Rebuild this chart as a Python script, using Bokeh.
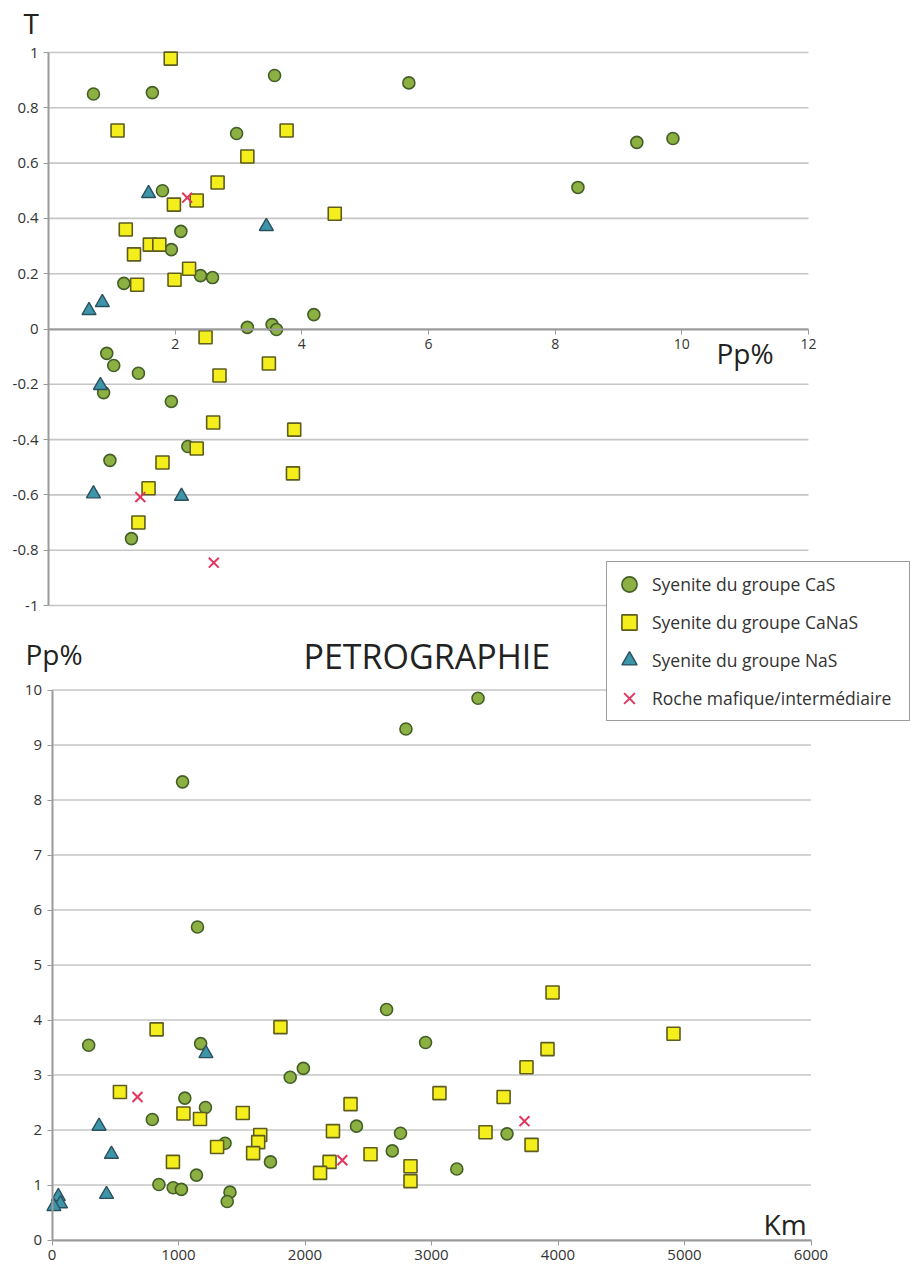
from bokeh.plotting import figure
from bokeh.models import (Range1d, LinearAxis, FixedTicker, Legend, LegendItem,
                          Label, CustomJSTickFormatter)
from bokeh.embed import file_html
from bokeh.resources import INLINE

# ---------------- data: top chart (T vs Pp%) ----------------
cas_pp_top = [0.71, 1.64, 3.57, 5.69, 2.97, 1.80, 2.09, 1.94, 2.40, 2.59, 1.19, 4.19, 8.36,
              9.29, 9.86, 3.14, 3.53, 3.60, 0.92, 1.03, 1.42, 0.87, 1.94, 2.20, 0.97, 1.31]
cas_t = [0.85, 0.855, 0.917, 0.89, 0.707, 0.50, 0.353, 0.287, 0.193, 0.186, 0.165, 0.052, 0.512,
         0.675, 0.689, 0.006, 0.016, -0.002, -0.088, -0.132, -0.16, -0.23, -0.262, -0.425, -0.475, -0.758]

canas_pp_top = [1.93, 1.09, 3.76, 3.14, 2.67, 1.98, 2.34, 4.52, 1.22, 1.60, 1.75, 1.35, 1.40,
                1.99, 2.22, 2.48, 3.48, 2.70, 2.60, 3.88, 2.34, 1.80, 3.86, 1.58, 1.42]
canas_t = [0.978, 0.718, 0.718, 0.624, 0.53, 0.45, 0.465, 0.417, 0.36, 0.305, 0.305, 0.27, 0.16,
           0.178, 0.218, -0.03, -0.125, -0.168, -0.338, -0.364, -0.432, -0.483, -0.522, -0.576, -0.70]

nas_pp_top = [1.58, 3.44, 0.85, 0.64, 0.82, 0.71, 2.10]
nas_t = [0.49, 0.371, 0.096, 0.067, -0.204, -0.596, -0.605]

mafic_pp_top = [2.19, 1.45, 2.61]
mafic_t = [0.475, -0.608, -0.845]

# ---------------- data: bottom chart (Pp% vs Km) ----------------
cas_km = [290, 1175, 2645, 2953, 1883, 1987, 1050, 1213, 793, 2407, 2755, 2690, 1368, 1727, 1142,
          845, 958, 1023, 1407, 1385, 3200, 3597, 1032, 1150, 2798, 3368]
cas_pp = [3.54, 3.57, 4.19, 3.59, 2.96, 3.12, 2.58, 2.41, 2.19, 2.07, 1.94, 1.62, 1.76, 1.42, 1.18,
          1.01, 0.95, 0.92, 0.87, 0.70, 1.29, 1.93, 8.33, 5.69, 9.29, 9.85]

canas_km = [827, 1806, 537, 1039, 1170, 1508, 2360, 2221, 3063, 1646, 1630, 1590, 1305, 956, 2194,
            2119, 2518, 2834, 2834, 3957, 4913, 3917, 3751, 3570, 3427, 3791]
canas_pp = [3.83, 3.87, 2.69, 2.30, 2.20, 2.31, 2.47, 1.98, 2.67, 1.91, 1.78, 1.58, 1.69, 1.42, 1.42,
            1.22, 1.56, 1.34, 1.07, 4.50, 3.75, 3.47, 3.14, 2.60, 1.96, 1.73]

nas_km = [1217, 372, 470, 431, 50, 67, 15]
nas_pp = [3.39, 2.07, 1.56, 0.83, 0.79, 0.66, 0.61]

mafic_km = [676, 2295, 3735]
mafic_pp = [2.60, 1.45, 2.16]

# ---------------- ticks and labels ----------------
t_ticks = [-1, -0.8, -0.6, -0.4, -0.2, 0, 0.2, 0.4, 0.6, 0.8, 1]
pp_top_ticks = [2, 4, 6, 8, 10, 12]
pp_ticks = [0, 1, 2, 3, 4, 5, 6, 7, 8, 9, 10]
km_ticks = [0, 1000, 2000, 3000, 4000, 5000, 6000]
series_labels = ["Syenite du groupe CaS", "Syenite du groupe CaNaS",
                 "Syenite du groupe NaS", "Roche mafique/intermédiaire"]

# ---------------- layout (canvas pixels; the frame fills the canvas) ----------------
W, H = 913, 1268
# bottom chart mapping
BX0, BXS = 51.5, 0.1265    # canvas x of km=0, px per km
BY0, BYS = 1239.5, 55.0    # canvas y of Pp=0, px per unit
# top chart mapping
TX0, TXS = 48.0, 63.33
TY0, TYS = 328.5, 276.5

p = figure(width=W, height=H, output_backend="svg", toolbar_location=None,
           x_axis_type=None, y_axis_type=None,
           x_range=Range1d((0 - BX0) / BXS, (W - BX0) / BXS),
           y_range=Range1d((BY0 - H) / BYS, (BY0 - 0) / BYS),
           min_border_left=0, min_border_right=0, min_border_top=0, min_border_bottom=0,
           background_fill_color="white", border_fill_color="white",
           outline_line_color=None)
p.extra_x_ranges = {"tx": Range1d((0 - TX0) / TXS, (W - TX0) / TXS)}
p.extra_y_ranges = {"ty": Range1d((TY0 - H) / TYS, (TY0 - 0) / TYS)}

GRID_C = "#c6c6c6"
AXIS_C = "#9a9a9a"
FONT = "Open Sans"

# horizontal grid lines, spanning each chart's x extent
top_x_end = max(pp_top_ticks)
bot_x_end = max(km_ticks)
p.segment(x0=[0] * len(t_ticks), x1=[top_x_end] * len(t_ticks), y0=t_ticks, y1=t_ticks,
          x_range_name="tx", y_range_name="ty",
          line_color=GRID_C, line_width=1.6, level="underlay")
p.segment(x0=[0] * len(pp_ticks), x1=[bot_x_end] * len(pp_ticks), y0=pp_ticks, y1=pp_ticks,
          line_color=GRID_C, line_width=1.6, level="underlay")


def style_axis(ax):
    ax.axis_line_color = AXIS_C
    ax.axis_line_width = 2
    ax.major_tick_line_color = AXIS_C
    ax.major_tick_out = 5
    ax.major_tick_in = 0
    ax.minor_tick_out = 0
    ax.minor_tick_in = 0
    ax.major_label_text_font = FONT
    ax.major_label_text_font_size = "15px"
    ax.major_label_text_color = "#333333"
    ax.major_label_standoff = 5


ax_bx = LinearAxis(fixed_location=0, bounds=(0, 6000), ticker=FixedTicker(ticks=km_ticks))
ax_by = LinearAxis(fixed_location=0, bounds=(0, 10), ticker=FixedTicker(ticks=pp_ticks))
ax_tx = LinearAxis(x_range_name="tx", y_range_name="ty", fixed_location=0, bounds=(0, 12),
                   ticker=FixedTicker(ticks=pp_top_ticks))
ax_ty = LinearAxis(x_range_name="tx", y_range_name="ty", fixed_location=0, bounds=(-1, 1),
                   ticker=FixedTicker(ticks=t_ticks),
                   formatter=CustomJSTickFormatter(
                       code="return Math.abs(tick) < 1e-9 ? '0' : String(Math.round(tick*10)/10);"))
for ax in (ax_bx, ax_by, ax_tx, ax_ty):
    style_axis(ax)
ax_tx.major_label_text_font_size = "14px"
p.add_layout(ax_bx, "below")
p.add_layout(ax_tx, "below")
p.add_layout(ax_by, "left")
p.add_layout(ax_ty, "left")

# marker styles
CAS = dict(marker="circle", size=12, fill_color="#8db043", line_color="#435f27", line_width=1.6)
CANAS = dict(marker="square", size=13, fill_color="#f3ee1c", line_color="#5e5c1e", line_width=1.6)
NAS = dict(marker="triangle", size=14, fill_color="#3c95a8", line_color="#2c4f5c", line_width=1.4)
MAF = dict(marker="x", size=14, line_color="#e2355e", line_width=2)

# top chart
p.scatter(cas_pp_top, cas_t, x_range_name="tx", y_range_name="ty", **CAS)
p.scatter(canas_pp_top, canas_t, x_range_name="tx", y_range_name="ty", **CANAS)
p.scatter(nas_pp_top, nas_t, x_range_name="tx", y_range_name="ty", **NAS)
p.scatter(mafic_pp_top, mafic_t, x_range_name="tx", y_range_name="ty", **MAF)

# bottom chart
r1 = p.scatter(cas_km, cas_pp, **CAS)
r2 = p.scatter(canas_km, canas_pp, **CANAS)
r3 = p.scatter(nas_km, nas_pp, **NAS)
r4 = p.scatter(mafic_km, mafic_pp, **MAF)

# legend
legend = Legend(items=[LegendItem(label=series_labels[0], renderers=[r1]),
                       LegendItem(label=series_labels[1], renderers=[r2]),
                       LegendItem(label=series_labels[2], renderers=[r3]),
                       LegendItem(label=series_labels[3], renderers=[r4])],
                location=(606, H - 721),
                glyph_width=38, glyph_height=38, label_height=38, label_width=254,
                spacing=0, padding=3, label_standoff=4, margin=0,
                label_text_font=FONT, label_text_font_size="17.5px", label_text_color="#333333",
                border_line_color="#3a3a3a", border_line_width=1.5,
                background_fill_color="white", background_fill_alpha=1.0)
p.add_layout(legend)

# titles / axis names
def add_label(text, left, baseline, size):
    p.add_layout(Label(x=left, y=H - baseline, x_units="screen", y_units="screen",
                       text=text, text_font=FONT, text_font_size=size,
                       text_color="#222222", text_baseline="alphabetic", text_align="left"))

add_label("T", 23, 22, "28px")
add_label("Pp%", 716, 352, "28px")
add_label("Pp%", 25, 653, "28px")
add_label("Km", 763, 1223, "28px")
add_label("PETROGRAPHIE", 303, 655, "34px")

open("out.html", "w").write(file_html(p, INLINE))
